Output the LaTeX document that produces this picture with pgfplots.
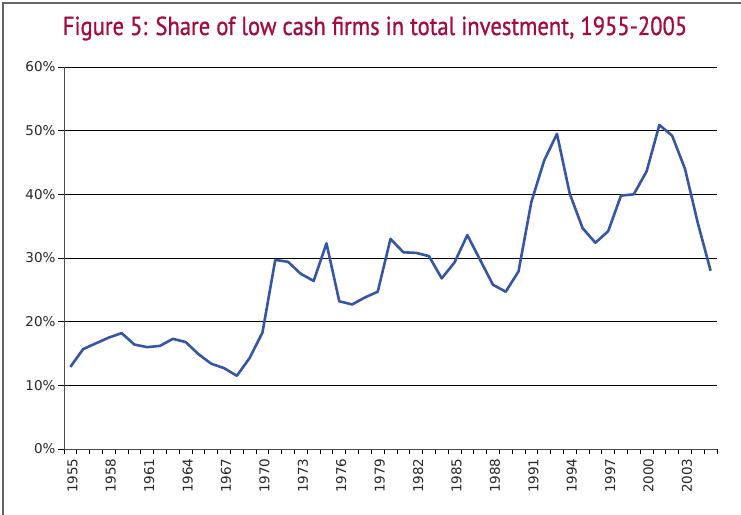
\documentclass[border=0pt]{standalone}
\usepackage{fontspec}
\setmainfont{DejaVu Sans}
\newfontfamily\titlefont[FakeBold=0.9]{PT Sans}
\usepackage{pgfplots}
\pgfplotsset{compat=1.18}

\definecolor{titlered}{RGB}{166,9,61}
\definecolor{lineblue}{RGB}{55,85,165}

\pgfplotstableread{
year share
1955 12.9
1956 15.7
1957 16.6
1958 17.5
1959 18.2
1960 16.4
1961 16.0
1962 16.2
1963 17.3
1964 16.8
1965 14.9
1966 13.4
1967 12.7
1968 11.5
1969 14.3
1970 18.3
1971 29.7
1972 29.4
1973 27.5
1974 26.4
1975 32.3
1976 23.2
1977 22.7
1978 23.8
1979 24.7
1980 33.0
1981 30.9
1982 30.8
1983 30.3
1984 26.8
1985 29.3
1986 33.6
1987 29.7
1988 25.8
1989 24.7
1990 27.9
1991 38.8
1992 45.3
1993 49.5
1994 40.1
1995 34.7
1996 32.4
1997 34.2
1998 39.8
1999 40.0
2000 43.6
2001 50.9
2002 49.2
2003 44.0
2004 35.5
2005 28.0
}\sharetable

\begin{document}
\begin{tikzpicture}
\path[use as bounding box] (0,0) rectangle (741bp,515bp);
\draw[gray!80!black, line width=1.3bp] (3bp,0) -- (3bp,512bp) -- (741bp,512bp);
\node[anchor=base, text=titlered, font=\titlefont\fontsize{26bp}{30bp}\selectfont]
  at (375bp,480bp) {\scalebox{0.87}[1]{Figure 5: Share of low cash firms in total investment, 1955-2005}};

\begin{axis}[
    at={(64bp,66bp)}, anchor=south west,
    scale only axis,
    width=653bp, height=382bp,
    xmin=1954.5, xmax=2005.5,
    ymin=0, ymax=60,
    axis x line*=bottom,
    axis y line*=left,
    axis line style={black!70, line width=0.8bp},
    tick align=outside,
    ytick={0,10,...,60},
    yticklabel={\pgfmathprintnumber{\tick}\%},
    /pgf/number format/assume math mode=true,
    major tick length=6bp,
    minor tick length=5bp,
    xtick={1955,1958,1961,1964,1967,1970,1973,1976,1979,1982,1985,1988,1991,1994,1997,2000,2003},
    xticklabels={1955,1958,1961,1964,1967,1970,1973,1976,1979,1982,1985,1988,1991,1994,1997,2000,2003},
    major x tick style={draw=none},
    minor xtick={1954.5,1955.5,...,2005.5},
    minor x tick style={black, line width=0.8bp},
    ytick style={black, line width=0.8bp},
    ymajorgrids,
    major grid style={black, line width=0.8bp},
    tick label style={font=\fontsize{13.5bp}{15bp}\selectfont, text=black!85},
    xticklabel style={rotate=90, anchor=east, yshift=-2bp},
    yticklabel style={xshift=1bp},
    clip=false,
]
\addplot[lineblue, line width=2.6bp, line join=round] table[x=year, y=share] {\sharetable};
\end{axis}
\end{tikzpicture}
\end{document}
